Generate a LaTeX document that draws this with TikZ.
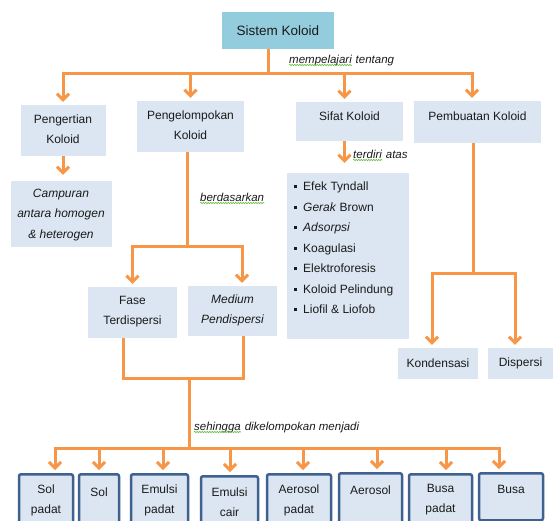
\documentclass[tikz,border=0pt]{standalone}
\usepackage{fontspec}
\setmainfont{Liberation Sans}
\usetikzlibrary{arrows.meta,decorations.pathmorphing}
\definecolor{orng}{HTML}{F79646}
\definecolor{boxfill}{HTML}{DCE6F2}
\definecolor{topfill}{HTML}{93CDDD}
\definecolor{bborder}{HTML}{3F6190}
\definecolor{txt}{HTML}{1A1A1A}
\definecolor{squig}{HTML}{6CBF4A}
\tikzset{
  ubox/.style={fill=boxfill, draw=none, inner sep=0pt},
  topbox/.style={fill=topfill, draw=none, inner sep=0pt},
  bbox/.style={fill=boxfill, draw=bborder, line width=2.5pt, rounded corners=2pt, inner sep=0pt, anchor=north},
  utext/.style={text=txt, font=\fontsize{12}{20}\selectfont, align=center, inner sep=0pt},
  lab/.style={text=txt, font=\fontsize{11.5}{14}\selectfont\itshape, inner sep=0pt, anchor=base west},
  conn/.style={draw=orng, line width=3pt, line join=miter},
  arr/.style={conn, -{Straight Barb[length=6pt,width=12pt,line width=3pt]}, shorten >=3pt},
  wavy/.style={draw=squig, line width=0.6pt, decorate, decoration={snake, amplitude=0.7pt, segment length=2.5pt}}
}
\begin{document}
\begin{tikzpicture}[x=1pt,y=-1pt]
\useasboundingbox (0,0) rectangle (554,520);
\clip (0,0) rectangle (554,520);

% top box
\node[topbox, minimum width=112pt, minimum height=37pt] (sk) at (278,30.5) {};
\node[utext, font=\fontsize{13.5}{16}\selectfont] (skt) at (sk.center) {Sistem Koloid};

% level 1
\node[ubox, minimum width=85pt, minimum height=51pt] (pk) at (63,130.5) {};
\node[utext] (pkt) at ([yshift=1pt]pk.center) {Pengertian\\Koloid};
\node[ubox, minimum width=107pt, minimum height=51pt] (pgk) at (190.5,126.5) {};
\node[utext] (pgkt) at ([yshift=1pt]pgk.center) {Pengelompokan\\Koloid};
\node[ubox, minimum width=107pt, minimum height=39pt] (sf) at (349.5,121.5) {};
\node[utext] (sft) at ([yshift=5pt]sf.center) {Sifat Koloid};
\node[ubox, minimum width=127pt, minimum height=42pt] (pb) at (477.5,122) {};
\node[utext] (pbt) at ([yshift=6pt]pb.center) {Pembuatan Koloid};

% level 2
\node[ubox, minimum width=101pt, minimum height=66pt] (cp) at (61,214) {};
\node[utext, font=\fontsize{12}{20.5}\selectfont\itshape] (cpt) at ([yshift=-1pt]cp.center) {Campuran\\antara homogen\\\& heterogen};
\node[ubox, minimum width=122pt, minimum height=166pt] (lst) at (348,256) {};
\node[utext, align=left, anchor=north west, font=\fontsize{12}{20.5}\selectfont] (lstt) at (294,182) {%
\rule[2.5pt]{3pt}{3pt}\hspace{6pt}Efek Tyndall\\
\rule[2.5pt]{3pt}{3pt}\hspace{6pt}\textit{Gerak} Brown\\
\rule[2.5pt]{3pt}{3pt}\hspace{6pt}\textit{Adsorpsi}\\
\rule[2.5pt]{3pt}{3pt}\hspace{6pt}Koagulasi\\
\rule[2.5pt]{3pt}{3pt}\hspace{6pt}Elektroforesis\\
\rule[2.5pt]{3pt}{3pt}\hspace{6pt}Koloid Pelindung\\
\rule[2.5pt]{3pt}{3pt}\hspace{6pt}Liofil \& Liofob};
\node[ubox, minimum width=89pt, minimum height=51pt] (fase) at (132.5,312.5) {};
\node[utext] (faset) at ([yshift=1pt]fase.center) {Fase\\Terdispersi};
\node[ubox, minimum width=89pt, minimum height=50pt] (med) at (232.5,311) {};
\node[utext, font=\fontsize{12}{20}\selectfont\itshape] (medt) at ([yshift=1pt]med.center) {Medium\\Pendispersi};
\node[ubox, minimum width=80pt, minimum height=31pt] (kon) at (438,363.5) {};
\node[utext] (kont) at (kon.center) {Kondensasi};
\node[ubox, minimum width=65pt, minimum height=31pt] (dis) at (520.5,363.5) {};
\node[utext] (dist) at (dis.center) {Dispersi};

% bottom boxes
\node[bbox, minimum width=54pt, minimum height=55pt] (b1) at (46,473) {};
\node[bbox, minimum width=40pt, minimum height=55pt] (b2) at (99,473) {};
\node[bbox, minimum width=57pt, minimum height=55pt] (b3) at (159.5,473) {};
\node[bbox, minimum width=57pt, minimum height=55pt] (b4) at (229.5,475) {};
\node[bbox, minimum width=64pt, minimum height=55pt] (b5) at (299,473) {};
\node[bbox, minimum width=63pt, minimum height=55pt] (b6) at (370.5,472) {};
\node[bbox, minimum width=63pt, minimum height=55pt] (b7) at (440.5,473) {};
\node[bbox, minimum width=64pt, minimum height=47pt] (b8) at (511,472) {};
\node[utext] (t1) at ([yshift=-27pt]b1.north) {Sol\\padat};
\node[utext] (t2) at ([yshift=-19pt]b2.north) {Sol};
\node[utext] (t3) at ([yshift=-27pt]b3.north) {Emulsi\\padat};
\node[utext] (t4) at ([yshift=-27pt]b4.north) {Emulsi\\cair};
\node[utext] (t5) at ([yshift=-27pt]b5.north) {Aerosol\\padat};
\node[utext] (t6) at ([yshift=-18pt]b6.north) {Aerosol};
\node[utext] (t7) at ([yshift=-27pt]b7.north) {Busa\\padat};
\node[utext] (t8) at ([yshift=-17pt]b8.north) {Busa};

% labels
\node[lab] (l1a) at (289,63) {mempelajari};
\node[lab] (l1b) at ([xshift=3.5pt]l1a.base east) {tentang};
\draw[wavy] ([yshift=-2pt]l1a.base west) -- ([yshift=-2pt]l1a.base east);
\node[lab] (l2a) at (353,158) {terdiri};
\node[lab] (l2b) at ([xshift=3.5pt]l2a.base east) {atas};
\draw[wavy] ([yshift=-2pt]l2a.base west) -- ([yshift=-2pt]l2a.base east);
\node[lab] (l3) at (200,201) {berdasarkan};
\draw[wavy] ([yshift=-2pt]l3.base west) -- ([yshift=-2pt]l3.base east);
\node[lab] (l4a) at (194,430) {sehingga};
\node[lab] (l4b) at ([xshift=3.5pt]l4a.base east) {dikelompokan menjadi};
\draw[wavy] ([yshift=-2pt]l4a.base west) -- ([yshift=-2pt]l4a.base east);

% connectors: top bus
\coordinate (tj) at (268,73);
\draw[conn] ([xshift=-10pt]sk.south) -- (tj);
\draw[arr] (tj) -| (pk.north);
\draw[arr] (tj) -| (pb.north -| 472,0);
\draw[arr] (pgk.north |- tj) -- (pgk.north);
\draw[arr] ([xshift=-5pt]sf.north |- tj) -- ([xshift=-5pt]sf.north);

% Pengertian
\draw[arr, shorten >=6pt] (pk.south) -- (pk.south |- cp.north);
% Sifat
\draw[arr, shorten >=10pt] ([xshift=-5pt]sf.south) -- ([xshift=-5pt]sf.south |- lst.north);
% Pengelompokan
\coordinate (pgj) at (187,246);
\draw[conn] ([xshift=-3.5pt]pgk.south) -- (pgj);
\draw[arr] (pgj) -| (fase.north);
\draw[arr] (pgj) -| ([xshift=9.5pt]med.north);
% Pembuatan
\coordinate (pbj) at (473,273);
\draw[conn] ([xshift=-4.5pt]pb.south) -- (pbj);
\draw[arr] (pbj) -| ([xshift=-6pt]kon.north);
\draw[arr] (pbj) -| ([xshift=-5.5pt]dis.north);
% Fase / Medium join
\coordinate (u) at (189,378);
\coordinate (bb) at (189,448);
\draw[conn] ([xshift=-9.5pt]fase.south) |- (u) -| ([xshift=10.5pt]med.south);
\draw[conn] (u) -- (bb);
% bottom bus
\draw[arr] (bb) -| ([xshift=9pt]b1.north);
\draw[arr] (bb) -| ([xshift=-12pt]b8.north);
\draw[arr] (b2.north |- bb) -- (b2.north);
\draw[arr] ([xshift=3.5pt]b3.north |- bb) -- ([xshift=3.5pt]b3.north);
\draw[arr] ([xshift=0.5pt]b4.north |- bb) -- ([xshift=0.5pt]b4.north);
\draw[arr] ([xshift=4pt]b5.north |- bb) -- ([xshift=4pt]b5.north);
\draw[arr] ([xshift=6.5pt]b6.north |- bb) -- ([xshift=6.5pt]b6.north);
\draw[arr] ([xshift=5.5pt]b7.north |- bb) -- ([xshift=5.5pt]b7.north);
\end{tikzpicture}
\end{document}
